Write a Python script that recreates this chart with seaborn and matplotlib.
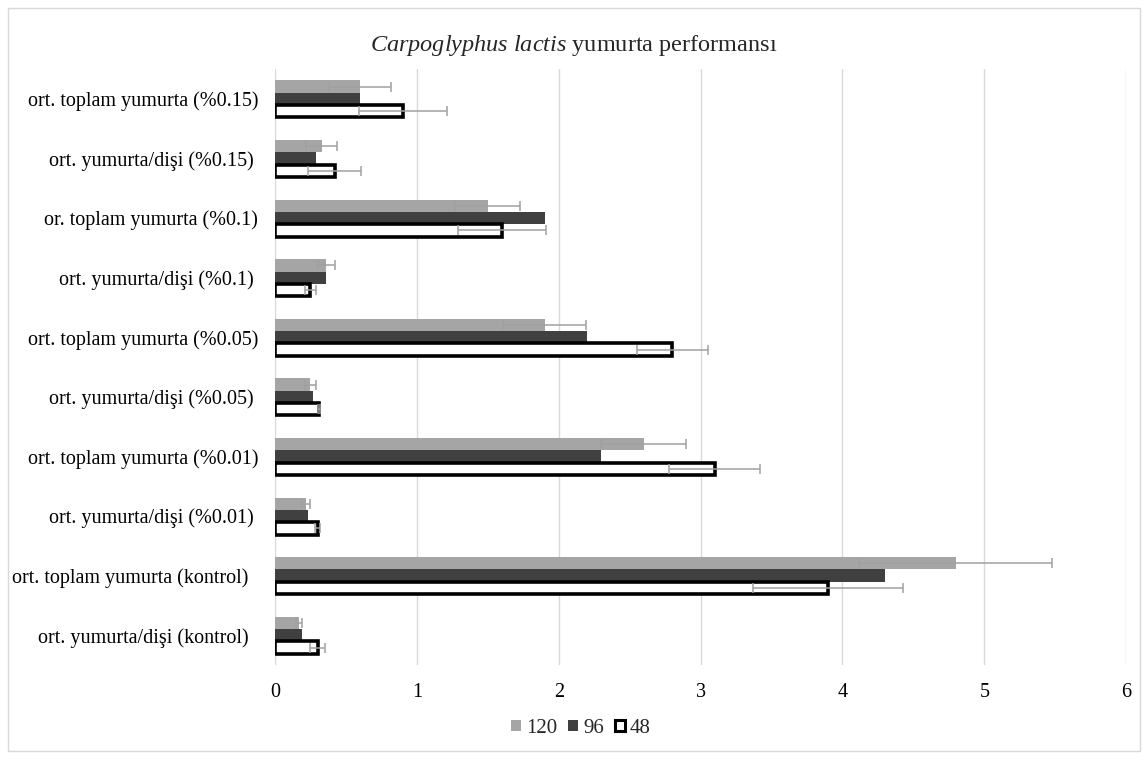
import matplotlib
matplotlib.use("Agg")
import matplotlib.pyplot as plt
from matplotlib.patches import Patch, Rectangle
import numpy as np
import pandas as pd
import seaborn as sns

# Categories, listed top to bottom as drawn
categories = [
    "ort. toplam yumurta (%0.15)",
    "ort. yumurta/dişi (%0.15) ",
    "or. toplam yumurta (%0.1)",
    "ort. yumurta/dişi (%0.1) ",
    "ort. toplam yumurta (%0.05)",
    "ort. yumurta/dişi (%0.05) ",
    "ort. toplam yumurta (%0.01)",
    "ort. yumurta/dişi (%0.01) ",
    "ort. toplam yumurta (kontrol)  ",
    "ort. yumurta/dişi (kontrol)  ",
]

series = ["120", "96", "48"]

mean_120 = [0.60, 0.33, 1.50, 0.36, 1.90, 0.25, 2.60, 0.22, 4.80, 0.17]
mean_96 = [0.60, 0.29, 1.90, 0.36, 2.20, 0.27, 2.30, 0.23, 4.30, 0.19]
mean_48 = [0.90, 0.42, 1.60, 0.25, 2.80, 0.31, 3.10, 0.30, 3.90, 0.30]

err_120 = [0.22, 0.11, 0.23, 0.06, 0.29, 0.04, 0.30, 0.03, 0.68, 0.02]
err_96 = [0.00, 0.00, 0.00, 0.00, 0.00, 0.00, 0.00, 0.00, 0.00, 0.00]
err_48 = [0.31, 0.19, 0.31, 0.04, 0.25, 0.01, 0.32, 0.02, 0.53, 0.05]

x_ticks = [0, 1, 2, 3, 4, 5, 6]

means = {"120": mean_120, "96": mean_96, "48": mean_48}
errors = {"120": err_120, "96": err_96, "48": err_48}

df = pd.DataFrame(
    [(c, s, means[s][i]) for s in series for i, c in enumerate(categories)],
    columns=["kategori", "saat", "deger"],
)

sns.set_theme(style="white")
plt.rcParams["font.family"] = ["Liberation Serif", "DejaVu Serif"]
plt.rcParams["mathtext.fontset"] = "custom"
plt.rcParams["mathtext.it"] = "Liberation Serif:italic"
plt.rcParams["mathtext.rm"] = "Liberation Serif"

fill = {"120": "#A5A5A5", "96": "#404040", "48": "#FFFFFF"}

fig = plt.figure(figsize=(11.48, 7.60), dpi=100)
ax = fig.add_axes([0.2395, 0.125, 0.9810 - 0.2395, 0.909 - 0.125])

sns.barplot(
    data=df, y="kategori", x="deger", hue="saat",
    order=categories, hue_order=series, palette=fill,
    orient="h", width=0.62, gap=0, errorbar=None,
    saturation=1, legend=False, ax=ax,
)

# Outline the 48 h bars and add the error bars
for s, cont in zip(series, ax.containers):
    for i, bar in enumerate(cont.patches):
        if s == "48":
            bar.set_edgecolor("black")
            bar.set_linewidth(2.6)
        else:
            bar.set_edgecolor("none")
        e = errors[s][i]
        if e > 0:
            yc = bar.get_y() + bar.get_height() / 2
            ax.errorbar(bar.get_width(), yc, xerr=e, fmt="none",
                        ecolor="#A0A0A0", elinewidth=1.1, capsize=3.5,
                        capthick=1.1, zorder=4)

ax.set_xlim(0, 6)
ax.set_ylim(len(categories) - 0.5, -0.5)
ax.set_xticks(x_ticks)
ax.set_xticklabels([str(t) for t in x_ticks])
ax.xaxis.grid(True, color="#D9D9D9", linewidth=1)
ax.set_axisbelow(True)
for sp in ax.spines.values():
    sp.set_visible(False)
ax.set_xlabel("")
ax.set_ylabel("")
ax.tick_params(axis="both", length=0, labelsize=14.5, colors="#000000")
ax.tick_params(axis="y", pad=12)
ax.tick_params(axis="x", pad=13)

fig.text(0.5, 0.94, r"$\mathit{Carpoglyphus\ lactis}$ yumurta performansı",
         ha="center", va="center", fontsize=17.5)

handles = [
    Patch(facecolor=fill["120"], edgecolor="none"),
    Patch(facecolor=fill["96"], edgecolor="none"),
    Patch(facecolor=fill["48"], edgecolor="black", linewidth=2.2),
]
fig.legend(handles, series, loc="center", bbox_to_anchor=(0.506, 0.042),
           ncol=3, frameon=False, fontsize=15, handlelength=0.45,
           handleheight=0.45, handletextpad=0.25, columnspacing=0.55)

fig.patches.append(Rectangle((0.007, 0.012), 0.986, 0.978, transform=fig.transFigure,
                             fill=False, edgecolor="#D9D9D9", linewidth=1))

fig.savefig("out.png", dpi=100, facecolor="white")
